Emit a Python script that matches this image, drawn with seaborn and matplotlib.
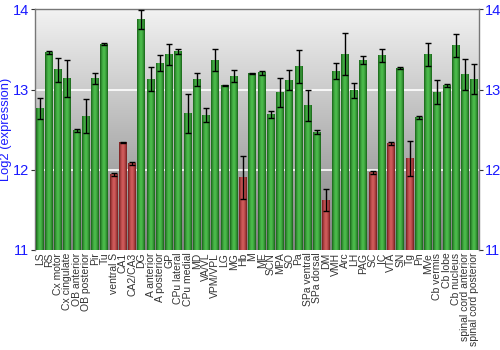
import numpy as np
import pandas as pd
import matplotlib
matplotlib.use("Agg")
import matplotlib.pyplot as plt
import seaborn as sns

regions = ["LS", "RS", "Cx motor", "Cx cingulate", "OB anterior", "OB posterior", "Pir", "Tu",
           "ventral S", "CA1", "CA2/CA3", "DG", "A anterior", "A posterior", "GP", "CPu lateral",
           "CPu medial", "MD", "VA/VL", "VPM/VPL", "LG", "MG", "Hb", "M", "ME", "SCN", "MPA",
           "SO", "Pa", "SPa ventral", "SPa dorsal", "DM", "VMH", "Arc", "LH", "PAG", "SC", "IC",
           "VTA", "SN", "Tg", "Pn", "MVe", "Cb vermis", "Cb lobe", "Cb nucleus",
           "spinal cord anterior", "spinal cord posterior"]
expression = [12.76, 13.46, 13.25, 13.14, 12.49, 12.67, 13.14, 13.57,
              11.94, 12.34, 12.08, 13.87, 13.13, 13.33, 13.44, 13.48,
              12.70, 13.13, 12.68, 13.37, 13.05, 13.17, 11.90, 13.20, 13.21, 12.69, 12.96,
              13.12, 13.29, 12.80, 12.47, 11.62, 13.23, 13.44, 12.99, 13.37, 11.97, 13.43,
              12.33, 13.27, 12.14, 12.65, 13.44, 12.97, 13.05, 13.55,
              13.19, 13.13]
error = [0.13, 0.02, 0.15, 0.23, 0.02, 0.21, 0.07, 0.01,
         0.02, 0.01, 0.02, 0.12, 0.15, 0.10, 0.13, 0.03,
         0.24, 0.08, 0.09, 0.14, 0.005, 0.08, 0.27, 0.005, 0.025, 0.04, 0.18,
         0.12, 0.21, 0.19, 0.02, 0.14, 0.10, 0.26, 0.09, 0.05, 0.02, 0.08,
         0.02, 0.015, 0.22, 0.015, 0.14, 0.15, 0.02, 0.14,
         0.19, 0.19]
low_group = ["ventral S", "CA1", "CA2/CA3", "Hb", "DM", "SC", "VTA", "Tg"]

df = pd.DataFrame({"region": regions, "expression": expression, "error": error})
df["group"] = np.where(df["region"].isin(low_group), "low", "high")

green_edge, green_mid = np.array([0.09, 0.38, 0.09]), np.array([0.30, 0.74, 0.30])
red_edge, red_mid = np.array([0.45, 0.11, 0.11]), np.array([0.82, 0.36, 0.36])

plt.rcParams["font.family"] = ["Liberation Sans", "DejaVu Sans"]

fig = plt.figure(figsize=(5, 3.5), dpi=100)
ax = fig.add_axes([0.07, 0.286, 0.888, 0.687])

sns.barplot(data=df, x="region", y="expression", hue="group",
            palette={"high": "#2e8b2e", "low": "#a33a3a"}, dodge=False,
            width=0.86, legend=False, ax=ax, errorbar=None, zorder=2)

n = len(regions)
ax.set_ylim(11, 14)
ax.set_xlim(-0.5, n - 0.5)

# vertical gray gradient behind the bars
bg = np.linspace(0.95, 0.50, 256).reshape(-1, 1)
ax.imshow(np.dstack([bg, bg, bg]), extent=[-0.5, n - 0.5, 11, 14],
          origin="upper", aspect="auto", zorder=0)
for yv in (12, 13):
    ax.axhline(yv, color="white", lw=1.2, zorder=1)

# cylindrical shading on every bar
t = np.linspace(-1, 1, 64)
shade = np.clip(1 - np.abs(t) ** 1.6, 0, 1)
for patch in ax.patches:
    x0, y0 = patch.get_x(), patch.get_y()
    w, h = patch.get_width(), patch.get_height()
    fc = patch.get_facecolor()
    edge, mid = (red_edge, red_mid) if fc[0] > fc[1] else (green_edge, green_mid)
    img = edge[None, :] + (mid - edge)[None, :] * shade[:, None]
    ax.imshow(img[None, :, :], extent=[x0, x0 + w, y0, y0 + h], aspect="auto",
              zorder=3, clip_path=patch, clip_on=True)
    patch.set_edgecolor("none")

xpos = np.arange(n)
ax.errorbar(xpos, df["expression"], yerr=df["error"], fmt="none", ecolor="black",
            elinewidth=1.0, capsize=2.2, capthick=1.0, zorder=4)
ax.set_xlim(-0.5, n - 0.5)
ax.set_ylim(11, 14)

ax.set_xlabel("")
ax.set_ylabel("Log2 (expression)", color="#1a1aff", fontsize=9.3, labelpad=1)
ax.set_yticks([11, 12, 13, 14])
ax.tick_params(axis="y", colors="#333333", labelcolor="#1a1aff", labelsize=10.5,
               length=3, pad=1, labelright=True, right=True)
ax.set_xticks(xpos)
ax.set_xticklabels(regions, rotation=90, fontsize=7.5, color="#333333")
ax.tick_params(axis="x", length=0, pad=2)
for side in ("top", "left", "right"):
    ax.spines[side].set_color("#777777")
    ax.spines[side].set_linewidth(1.0)
ax.spines["bottom"].set_visible(False)

fig.savefig("out.png", dpi=100)
